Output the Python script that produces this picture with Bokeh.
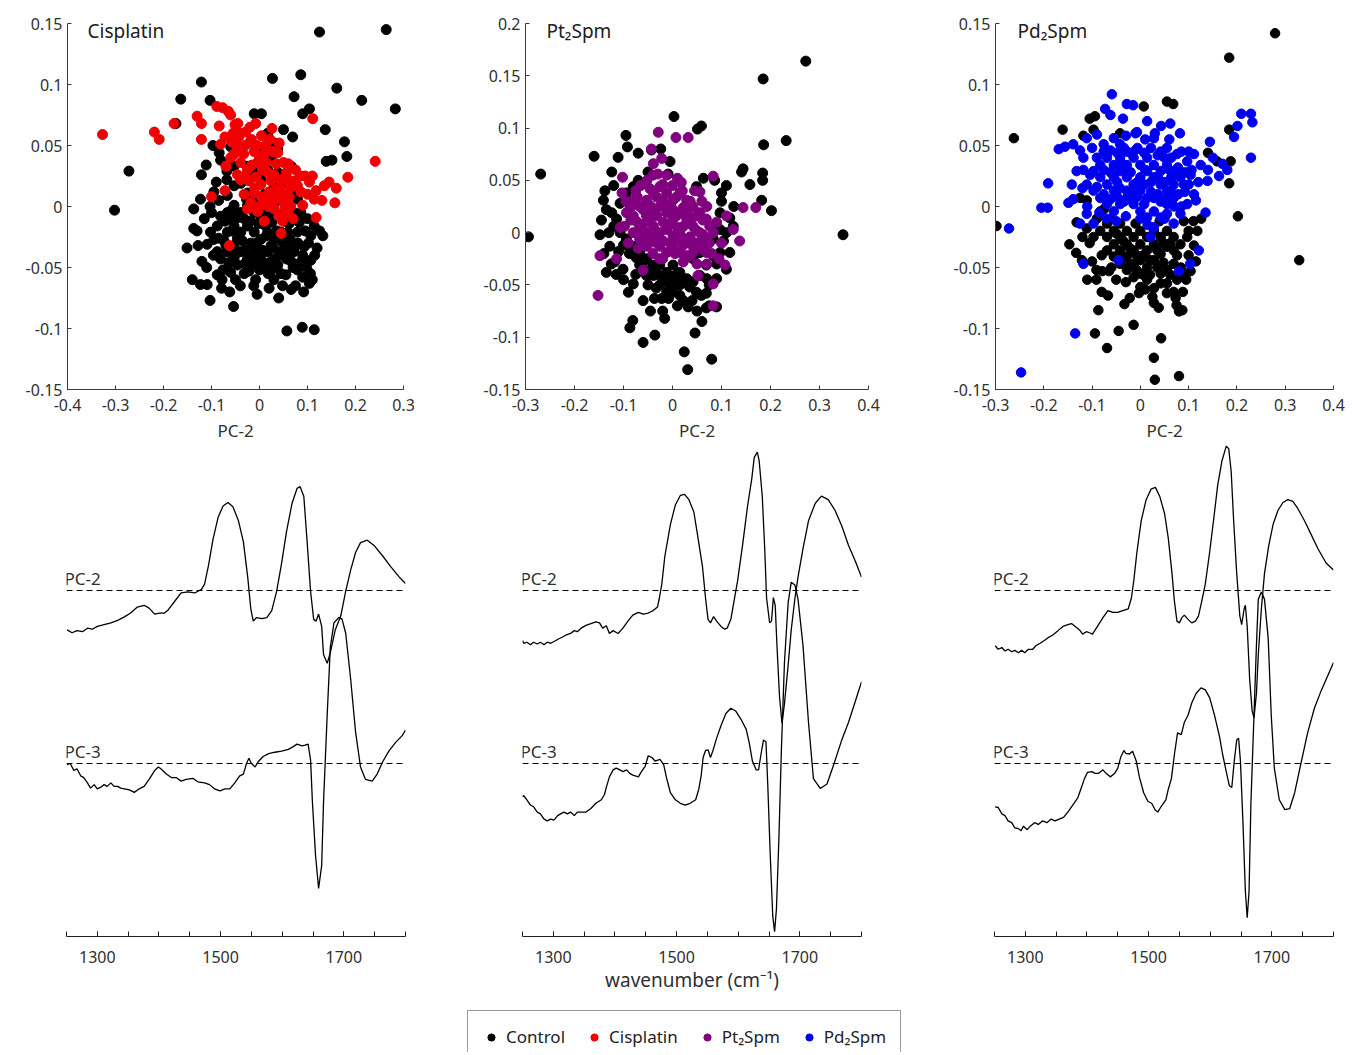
import math
from bokeh.plotting import figure
from bokeh.models import (Range1d, FixedTicker, CustomJSTickFormatter, Label, Span,
                          Legend, LegendItem)
from bokeh.layouts import row, column
from bokeh.embed import file_html
from bokeh.resources import INLINE

FONT = "Noto Sans"
TEXT = "#303030"
AXIS = "#3a3a3a"

# ---------------------------------------------------------------- scores (PC-2, PC-3)
CIS_CONTROL = [
    (0.125, 0.143), (0.264, 0.145), (-0.121, 0.102), (0.027, 0.105), (0.086, 0.108), (0.161, 0.097),
    (0.213, 0.087), (0.283, 0.080), (-0.164, 0.088), (-0.103, 0.087), (0.072, 0.090), (0.104, 0.080),
    (0.090, 0.076), (-0.011, 0.076), (0.004, 0.076), (-0.174, 0.068), (0.137, 0.063), (0.050, 0.063),
    (0.069, 0.057), (0.177, 0.053), (-0.097, 0.050), (-0.084, 0.044), (0.139, 0.037), (0.151, 0.038),
    (0.182, 0.041), (-0.272, 0.029), (-0.121, 0.026), (-0.111, 0.034), (-0.068, 0.029), (0.055, 0.026),
    (-0.302, -0.003), (-0.137, -0.002), (-0.123, 0.006), (-0.103, 0.000), (-0.137, -0.018),
    (-0.128, -0.032), (-0.151, -0.034), (-0.109, -0.031), (-0.102, -0.021), (0.132, -0.024),
    (0.107, -0.024), (0.114, -0.016), (-0.140, -0.060), (-0.123, -0.064), (-0.109, -0.064),
    (-0.103, -0.077), (-0.079, -0.067), (-0.088, -0.056), (-0.060, -0.054), (-0.054, -0.082),
    (-0.022, -0.053), (-0.008, -0.060), (0.022, -0.054), (0.020, -0.067), (0.048, -0.065),
    (0.066, -0.068), (0.055, -0.056), (0.079, -0.052), (0.090, -0.058), (0.104, -0.063),
    (0.106, -0.055), (0.057, -0.102), (0.089, -0.099), (0.114, -0.101), (0.072, -0.037),
    (0.090, -0.040), (0.093, -0.033), (0.079, -0.021), (0.059, -0.021), (-0.067, 0.009),
    (-0.053, 0.017), (-0.039, 0.019), (-0.081, -0.008), (-0.067, -0.021), (-0.053, -0.016),
    (-0.039, -0.021), (-0.025, -0.016), (-0.011, -0.021), (0.003, -0.027), (0.017, -0.021),
    (0.031, -0.027), (0.045, -0.021), (-0.053, -0.032), (-0.039, -0.037), (-0.025, -0.043),
    (-0.011, -0.037), (0.003, -0.043), (0.017, -0.037), (0.031, -0.043), (0.045, -0.037),
    (0.059, -0.032), (-0.067, -0.037), (-0.081, -0.043), (-0.053, -0.043), (-0.039, -0.005),
    (-0.025, 0.001), (-0.011, -0.005), (-0.053, 0.001), (0.003, -0.010), (0.017, -0.008),
    (-0.011, 0.006), (-0.025, 0.011), (-0.067, -0.005), (-0.088, -0.016), (-0.095, -0.027),
    (0.031, -0.005), (0.059, 0.001), (0.072, -0.005), (0.086, -0.005), (0.100, -0.010),
    (0.079, 0.006), (0.066, 0.011), (0.052, 0.019), (0.031, 0.017), (0.038, 0.028), (0.017, 0.030),
    (0.003, 0.022), (-0.011, 0.028), (-0.025, 0.033), (-0.053, 0.033), (-0.081, 0.038),
    (0.066, 0.033), (-0.060, 0.049), (0.031, 0.052), (0.017, 0.060), (0.038, 0.047),
    (-0.046, -0.048), (-0.018, -0.048), (0.010, -0.048), (0.038, -0.048), (0.066, -0.045),
    (-0.088, -0.037), (0.107, -0.044), (-0.032, -0.010), (0.010, -0.015), (0.024, -0.032),
    (-0.046, -0.026), (0.052, -0.012), (-0.018, -0.030), (0.038, 0.005), (-0.060, -0.010),
    (0.010, 0.010), (-0.074, -0.028), (0.045, -0.055), (-0.032, -0.055), (0.024, 0.040),
    (-0.004, 0.045),
    (-0.085, -0.026), (-0.072, -0.012), (-0.064, -0.046), (-0.058, -0.003), (-0.047, -0.038),
    (-0.044, -0.009), (-0.036, -0.028), (-0.031, -0.047), (-0.027, 0.006), (-0.019, -0.012),
    (-0.016, -0.040), (-0.006, -0.030), (-0.002, -0.014), (0.000, -0.052), (0.007, -0.036),
    (0.011, -0.003), (0.014, -0.024), (0.021, -0.046), (0.026, -0.013), (0.029, -0.034),
    (0.036, -0.020), (0.041, -0.040), (0.047, -0.029), (0.050, -0.006), (0.056, -0.043),
    (0.062, -0.014), (0.064, -0.027), (0.070, -0.050), (0.076, -0.032), (0.083, -0.013),
    (0.087, -0.045), (0.095, -0.020), (-0.076, -0.052), (-0.096, -0.040), (-0.110, -0.050),
    (-0.115, -0.010), (-0.068, 0.022), (-0.090, 0.020), (0.102, -0.030), (0.120, -0.034),
    (0.092, -0.070), (-0.050, -0.060), (0.030, -0.060), (-0.012, -0.065),
    (-0.120, -0.045), (-0.130, -0.020), (-0.100, -0.005), (-0.085, 0.005), (-0.095, 0.012),
    (-0.078, -0.060), (-0.062, -0.070), (-0.040, -0.065), (-0.005, -0.072), (0.040, -0.075),
    (0.075, -0.065), (0.098, -0.050), (0.110, -0.060), (0.115, -0.040), (0.125, -0.020),
    (-0.058, -0.020), (-0.030, -0.036), (0.005, -0.004), (0.018, -0.055), (0.058, -0.038),
    (0.080, -0.030), (-0.010, -0.046), (-0.070, -0.032), (0.033, -0.050),
]
CISPLATIN = [
    (-0.327, 0.059), (-0.219, 0.061), (-0.209, 0.055), (-0.178, 0.068), (-0.130, 0.074),
    (-0.121, 0.068), (-0.121, 0.055), (-0.089, 0.082), (-0.077, 0.081), (-0.065, 0.078),
    (-0.060, 0.075), (-0.051, 0.067), (-0.084, 0.066), (-0.072, 0.057), (-0.081, 0.051),
    (-0.043, 0.057), (-0.029, 0.061), (-0.008, 0.068), (0.026, 0.064), (0.111, 0.072),
    (0.241, 0.037), (0.184, 0.024), (0.157, 0.003), (0.135, 0.017), (0.118, 0.013), (0.118, -0.009),
    (0.114, 0.006), (0.095, 0.025), (0.079, 0.017), (0.072, 0.021), (0.059, 0.021), (0.041, 0.052),
    (0.038, 0.044), (0.050, 0.036), (-0.039, 0.049), (-0.022, 0.052), (-0.011, 0.045), (0.010, 0.043),
    (-0.053, 0.043), (-0.070, 0.033), (-0.039, 0.036), (-0.025, 0.030), (-0.004, 0.036),
    (0.017, 0.028), (-0.039, 0.022), (-0.022, 0.021), (0.003, 0.018), (0.024, 0.021), (0.045, 0.014),
    (-0.011, 0.011), (0.010, 0.006), (0.024, 0.003), (0.038, 0.007), (0.052, 0.002), (0.059, -0.005),
    (0.031, -0.002), (-0.025, -0.002), (-0.004, -0.004), (0.010, -0.012), (0.045, -0.022),
    (-0.063, -0.032), (-0.072, 0.013), (-0.100, 0.008), (0.090, 0.001),
    (-0.048, 0.050), (-0.033, 0.043), (-0.017, 0.055), (-0.005, 0.050), (0.004, 0.058),
    (-0.030, 0.025), (-0.016, 0.034), (-0.008, 0.024), (0.006, 0.030), (0.014, 0.036), (0.020, 0.012),
    (0.030, 0.026), (0.034, 0.014), (0.044, 0.022), (0.050, 0.010), (0.056, 0.028), (0.062, 0.008),
    (0.066, 0.016), (0.040, -0.008), (0.048, -0.012), (0.054, -0.002), (0.018, 0.000), (0.004, 0.008),
    (-0.018, 0.003), (-0.032, 0.010), (-0.046, 0.026), (-0.058, 0.053), (-0.055, 0.060),
    (0.086, 0.012), (0.100, 0.010), (0.104, 0.020), (0.130, 0.005), (0.028, 0.045), (-0.045, 0.068),
    (-0.040, 0.060), (-0.020, 0.065), (0.000, 0.040), (0.012, 0.050), (0.022, 0.055), (-0.010, 0.015),
    (0.000, 0.000), (0.030, 0.005), (0.060, 0.035), (0.075, 0.030), (0.085, 0.025), (0.065, 0.000),
    (0.070, -0.010), (-0.030, 0.050), (-0.060, 0.040), (0.035, 0.035), (0.110, 0.025), (0.145, 0.020),
    (0.160, 0.015),
]
PT_CONTROL = [
    (-0.294, -0.004), (-0.269, 0.056), (-0.160, 0.073), (-0.095, 0.093), (-0.092, 0.082),
    (-0.070, 0.076), (-0.043, 0.079), (-0.024, 0.080), (0.003, 0.111), (0.051, 0.099), (0.059, 0.102),
    (0.185, 0.147), (0.272, 0.164), (0.186, 0.084), (0.232, 0.088), (0.348, -0.002), (0.202, 0.021),
    (0.182, 0.031), (0.184, 0.057), (0.184, 0.050), (0.158, 0.046), (0.144, 0.061), (0.141, 0.058),
    (-0.005, 0.068), (-0.009, 0.056), (-0.050, 0.058), (-0.070, 0.050), (-0.111, 0.072),
    (-0.124, 0.058), (-0.135, 0.022), (-0.148, -0.002), (-0.135, -0.038), (-0.118, -0.028),
    (-0.101, -0.035), (-0.090, -0.057), (-0.080, -0.049), (-0.081, -0.084), (-0.087, -0.091),
    (-0.060, -0.105), (-0.036, -0.098), (-0.016, -0.082), (-0.037, -0.063), (-0.022, -0.063),
    (0.024, -0.114), (0.031, -0.131), (0.046, -0.096), (0.080, -0.121), (0.022, -0.065),
    (0.032, -0.071), (0.049, -0.057), (0.069, -0.058), (0.069, -0.072), (0.090, -0.071),
    (0.090, -0.044), (0.110, -0.035), (0.117, -0.019), (0.110, 0.000), (0.124, 0.006), (0.117, 0.014),
    (0.100, 0.038), (0.086, 0.050), (0.063, 0.052), (0.049, 0.044), (-0.026, -0.050),
    (-0.012, -0.047), (0.001, -0.044), (0.015, -0.050), (-0.012, -0.038), (-0.026, -0.031),
    (-0.039, -0.031), (-0.053, -0.025), (-0.067, -0.019), (-0.080, -0.013), (-0.094, -0.006),
    (-0.107, 0.000), (-0.114, 0.013), (-0.107, 0.028), (-0.094, 0.038), (-0.080, 0.044),
    (0.001, -0.031), (0.015, -0.038), (0.029, -0.044), (0.042, -0.047), (0.056, -0.041),
    (0.069, -0.031), (0.083, -0.022), (0.097, -0.019), (0.083, -0.006), (0.097, 0.003), (0.097, 0.019),
    (0.042, -0.025), (0.056, -0.019), (-0.039, -0.041), (-0.053, -0.041), (-0.067, -0.031),
    (-0.128, -0.013), (-0.141, 0.031), (-0.124, 0.019), (0.001, -0.057), (-0.033, -0.053),
    (-0.012, -0.057), (0.015, -0.060), (0.059, -0.060),
    (-0.030, -0.040), (-0.018, -0.045), (-0.005, -0.050), (0.008, -0.040), (0.020, -0.046),
    (0.035, -0.052), (-0.046, -0.036), (-0.060, -0.028), (-0.074, -0.024), (-0.088, -0.020),
    (-0.100, -0.012), (-0.120, 0.006), (-0.130, 0.000), (-0.145, 0.012), (-0.138, 0.040),
    (-0.120, 0.045), (-0.008, -0.063), (0.010, -0.070), (0.040, -0.065), (0.050, -0.075),
    (0.075, -0.050), (0.090, -0.030), (0.104, -0.008), (0.070, -0.044), (-0.050, -0.050),
    (-0.075, -0.040), (-0.100, -0.045), (-0.115, -0.040), (-0.020, -0.075),
    (-0.140, -0.020), (-0.125, -0.030), (-0.110, -0.018), (-0.060, -0.065), (-0.045, -0.075),
    (0.060, -0.085), (0.075, -0.070), (0.100, 0.030), (0.110, 0.045), (0.125, 0.025),
]
PT2SPM = [
    (-0.152, -0.060), (-0.148, -0.022), (-0.114, -0.025), (-0.107, 0.005), (-0.103, 0.038),
    (-0.102, 0.053), (-0.060, -0.036), (-0.029, 0.096), (-0.043, 0.080), (-0.039, 0.066),
    (-0.022, 0.071), (0.007, 0.091), (0.032, 0.091), (0.018, 0.048), (0.056, 0.039), (0.083, 0.054),
    (0.144, 0.024), (0.170, 0.024), (0.137, -0.008), (0.124, 0.003), (0.110, 0.016), (0.107, -0.031),
    (0.083, -0.049), (0.083, -0.070), (0.052, -0.041), (-0.026, -0.025), (-0.080, 0.031),
    (-0.067, 0.025), (-0.053, 0.031), (-0.039, 0.038), (-0.026, 0.044), (-0.012, 0.038),
    (0.001, 0.031), (0.015, 0.038), (0.029, 0.031), (0.042, 0.025), (0.056, 0.019), (0.069, 0.013),
    (-0.080, 0.016), (-0.067, 0.006), (-0.053, 0.016), (-0.039, 0.022), (-0.026, 0.025),
    (-0.012, 0.019), (0.001, 0.013), (0.015, 0.019), (0.029, 0.013), (0.042, 0.006), (0.056, 0.000),
    (0.069, -0.006), (0.083, 0.000), (-0.067, -0.006), (-0.053, 0.000), (-0.039, 0.006),
    (-0.026, 0.000), (-0.012, 0.003), (0.001, -0.003), (0.015, 0.000), (0.029, -0.006),
    (0.042, -0.013), (-0.053, -0.013), (-0.039, -0.009), (-0.026, -0.013), (-0.012, -0.019),
    (0.001, -0.013), (0.015, -0.019), (0.029, -0.022), (0.042, -0.019), (-0.080, 0.000),
    (-0.094, 0.019), (0.001, 0.022), (0.069, -0.019), (0.056, -0.009),
    (-0.086, 0.024), (-0.072, 0.034), (-0.060, 0.022), (-0.046, 0.026), (-0.032, 0.034),
    (-0.019, 0.030), (-0.005, 0.026), (0.008, 0.034), (0.022, 0.024), (0.036, 0.030), (0.049, 0.016),
    (0.062, 0.012), (-0.074, 0.011), (-0.060, 0.008), (-0.046, 0.012), (-0.032, 0.016),
    (-0.019, 0.010), (-0.005, 0.008), (0.008, 0.016), (0.022, 0.006), (0.036, 0.011), (0.049, 0.002),
    (0.062, -0.002), (0.076, 0.006), (-0.060, -0.008), (-0.046, -0.004), (-0.032, -0.006),
    (-0.019, -0.008), (-0.005, -0.010), (0.008, -0.006), (0.022, -0.012), (0.036, -0.004),
    (0.049, -0.010), (0.062, -0.016), (-0.040, -0.020), (-0.020, -0.025), (0.005, -0.020),
    (0.022, -0.028), (0.036, -0.022), (-0.046, 0.042), (-0.020, 0.046), (0.000, 0.045),
    (-0.012, 0.055), (-0.030, 0.056), (0.090, 0.010), (0.100, -0.010), (0.095, -0.025),
    (-0.098, 0.006), (-0.090, -0.010),
    (-0.075, 0.040), (-0.065, 0.045), (-0.052, 0.050), (-0.040, 0.055), (0.010, 0.052),
    (0.020, 0.040), (0.045, 0.040), (0.060, 0.030), (0.070, 0.025), (0.075, -0.010), (0.080, -0.020),
    (0.070, -0.030), (0.050, -0.030), (-0.065, 0.000), (-0.085, 0.012), (-0.095, 0.030),
    (-0.070, -0.015), (-0.030, 0.000), (0.010, 0.005), (0.030, 0.018),
]
PD_CONTROL = [
    (-0.298, -0.016), (-0.262, 0.056), (-0.161, 0.063), (0.279, 0.142), (0.184, 0.122), (0.184, 0.063),
    (0.187, 0.037), (0.184, 0.019), (0.202, -0.008), (0.329, -0.044), (0.007, 0.082), (0.055, 0.086),
    (0.068, 0.084), (-0.105, 0.072), (-0.094, 0.074), (-0.118, 0.058), (-0.097, 0.063),
    (-0.042, 0.060), (-0.008, 0.047), (0.159, 0.037), (0.140, 0.044), (-0.147, -0.031),
    (-0.133, -0.038), (-0.121, -0.044), (-0.100, -0.045), (-0.091, -0.052), (-0.091, -0.060),
    (-0.079, -0.053), (-0.065, -0.053), (-0.067, -0.073), (-0.087, -0.085), (-0.094, -0.104),
    (-0.045, -0.102), (-0.069, -0.116), (-0.014, -0.097), (-0.033, -0.080), (-0.022, -0.075),
    (-0.003, -0.071), (0.028, -0.124), (0.030, -0.142), (0.043, -0.108), (0.080, -0.139),
    (0.028, -0.079), (0.038, -0.083), (0.069, -0.070), (0.075, -0.081), (0.080, -0.086),
    (0.087, -0.085), (0.073, -0.075), (0.028, -0.067), (0.042, -0.063), (0.090, -0.056),
    (0.104, -0.053), (0.111, -0.032), (0.118, -0.020), (0.097, -0.025), (-0.132, -0.013),
    (-0.111, -0.018), (-0.097, -0.025), (-0.083, -0.020), (-0.069, -0.025), (-0.055, -0.031),
    (-0.042, -0.036), (-0.028, -0.041), (-0.014, -0.047), (0.000, -0.044), (0.014, -0.050),
    (0.028, -0.044), (0.042, -0.039), (0.055, -0.033), (0.069, -0.036), (0.083, -0.031),
    (0.069, -0.047), (0.055, -0.052), (0.042, -0.055), (0.014, -0.060), (0.000, -0.055),
    (-0.014, -0.058), (-0.028, -0.052), (-0.042, -0.047), (-0.055, -0.041), (-0.069, -0.036),
    (-0.028, -0.031), (-0.014, -0.036), (0.000, -0.031), (0.014, -0.036), (0.028, -0.031),
    (0.014, -0.025), (0.000, -0.020), (-0.014, -0.025), (-0.042, -0.025), (-0.055, -0.020),
    (-0.069, -0.014), (-0.042, -0.014), (-0.028, -0.020), (0.028, -0.020), (0.042, -0.025),
    (0.055, -0.020), (0.069, -0.025), (-0.083, -0.004), (-0.111, 0.005), (-0.125, 0.007),
    (0.055, -0.063), (0.000, -0.066), (0.055, -0.071),
    (-0.050, -0.022), (-0.036, -0.028), (-0.022, -0.034), (-0.008, -0.040), (0.006, -0.040),
    (0.020, -0.044), (0.035, -0.036), (0.048, -0.030), (0.062, -0.030), (0.076, -0.040),
    (-0.036, -0.042), (-0.022, -0.048), (-0.008, -0.052), (0.006, -0.056), (0.020, -0.056),
    (0.035, -0.050), (0.048, -0.046), (0.062, -0.056), (0.076, -0.060), (0.088, -0.070),
    (0.084, -0.050), (-0.030, -0.062), (-0.050, -0.060), (0.010, -0.068), (0.025, -0.074),
    (-0.060, -0.010), (-0.075, -0.002), (-0.090, -0.010), (-0.105, -0.030), (0.100, -0.040),
    (0.110, -0.012), (0.126, -0.010), (0.090, -0.012), (-0.010, -0.014), (0.040, -0.012),
    (-0.080, -0.040), (-0.060, -0.050), (-0.110, -0.060), (0.095, -0.060), (0.100, -0.020),
    (0.115, -0.045), (-0.120, -0.025), (-0.080, -0.070),
]
PD2SPM = [
    (-0.247, -0.136), (-0.272, -0.018), (-0.191, 0.019), (-0.205, -0.001), (-0.192, -0.001),
    (-0.169, 0.047), (-0.156, 0.049), (-0.135, -0.104), (-0.118, -0.047), (-0.059, 0.092),
    (-0.073, 0.080), (-0.062, 0.075), (-0.028, 0.084), (-0.015, 0.083), (-0.036, 0.072),
    (0.014, 0.070), (0.043, 0.066), (0.062, 0.068), (0.082, 0.060), (0.209, 0.076), (0.229, 0.076),
    (0.232, 0.069), (0.201, 0.066), (0.194, 0.057), (0.229, 0.040), (0.144, 0.053), (0.163, 0.025),
    (0.139, 0.021), (0.135, -0.005), (0.121, -0.036), (0.103, -0.047), (0.080, -0.053),
    (-0.045, -0.044), (-0.139, 0.006), (-0.142, 0.018), (-0.132, 0.029), (-0.118, 0.040),
    (-0.111, 0.056), (-0.090, 0.059), (-0.076, 0.051), (-0.055, 0.056), (-0.042, 0.051),
    (-0.028, 0.045), (-0.007, 0.061), (0.028, 0.056), (0.042, 0.045), (0.055, 0.048), (0.076, 0.043),
    (0.097, 0.037), (0.111, 0.043), (0.125, 0.034), (0.104, 0.026), (0.090, 0.018), (0.111, 0.010),
    (0.097, 0.002), (0.083, -0.006), (0.069, -0.014), (0.028, -0.017), (0.014, -0.009),
    (0.000, -0.004), (-0.014, 0.002), (-0.028, 0.007), (-0.042, 0.002), (-0.055, -0.004),
    (-0.069, 0.002), (-0.083, 0.007), (-0.097, 0.013), (-0.111, 0.018), (-0.097, 0.029),
    (-0.083, 0.034), (-0.069, 0.040), (-0.055, 0.034), (-0.042, 0.040), (-0.028, 0.034),
    (-0.014, 0.040), (0.000, 0.034), (0.014, 0.040), (0.028, 0.034), (0.042, 0.029), (0.055, 0.034),
    (0.069, 0.029), (0.083, 0.024), (0.069, 0.018), (0.055, 0.013), (0.042, 0.018), (0.028, 0.024),
    (0.014, 0.029), (0.000, 0.024), (-0.014, 0.018), (-0.028, 0.024), (-0.042, 0.029),
    (-0.055, 0.024), (-0.069, 0.018), (-0.083, 0.024), (-0.055, 0.013), (-0.042, 0.015),
    (-0.028, 0.013), (-0.014, 0.010), (0.000, 0.013), (0.014, 0.007), (0.028, 0.007), (0.042, 0.004),
    (0.055, 0.002), (0.069, 0.007), (0.028, -0.004), (0.042, -0.009), (0.055, -0.006),
    (-0.111, -0.006), (-0.097, -0.014), (-0.125, -0.014), (-0.149, 0.003), (-0.139, 0.051),
    (0.021, -0.025),
    (-0.090, 0.016), (-0.076, 0.010), (-0.062, 0.006), (-0.048, 0.008), (-0.034, 0.004),
    (-0.020, 0.006), (-0.006, 0.008), (0.008, 0.002), (0.022, 0.012), (0.036, 0.010), (0.050, 0.006),
    (0.064, 0.012), (0.078, 0.010), (0.092, 0.012), (-0.090, 0.040), (-0.076, 0.045), (-0.062, 0.046),
    (-0.048, 0.044), (-0.034, 0.048), (-0.020, 0.044), (-0.006, 0.048), (0.008, 0.044), (0.022, 0.048),
    (0.036, 0.042), (0.050, 0.040), (0.064, 0.040), (-0.076, 0.030), (-0.062, 0.028), (-0.048, 0.020),
    (-0.034, 0.030), (-0.020, 0.028), (-0.006, 0.020), (0.008, 0.018), (0.022, 0.020), (0.036, 0.024),
    (0.050, 0.020), (0.064, 0.024), (0.078, 0.032), (0.092, 0.028), (0.106, 0.030), (-0.104, 0.026),
    (-0.118, 0.030), (-0.125, 0.046), (-0.100, 0.048), (0.000, -0.010), (0.015, -0.015),
    (-0.030, -0.008), (0.050, -0.010), (0.070, 0.000), (0.120, 0.020), (0.140, 0.030), (0.150, 0.040),
    (0.170, 0.035), (0.180, 0.030),
    (-0.110, 0.000), (-0.120, 0.015), (-0.085, -0.005), (-0.070, -0.010), (-0.050, -0.012),
    (-0.030, 0.058), (-0.010, 0.060), (0.010, 0.055), (0.030, 0.060), (0.060, 0.055), (0.085, 0.045),
    (0.100, 0.045), (0.115, 0.005), (0.085, 0.000), (0.100, 0.018), (0.010, 0.030), (-0.040, 0.036),
    (0.060, 0.030),
]

# ---------------------------------------------------------------- loadings (wavenumber, a.u.)
CIS_PC2 = [
    (1251, -11.2), (1259, -12.0), (1267, -11.4), (1276, -11.7), (1284, -10.7), (1292, -11.0),
    (1300, -10.2), (1311, -9.7), (1322, -9.2), (1333, -8.5), (1344, -7.5), (1354, -6.4),
    (1365, -4.7), (1376, -4.2), (1384, -5.0), (1393, -6.7), (1401, -6.4), (1409, -6.4),
    (1414, -5.7), (1425, -3.2), (1436, -0.7), (1447, -0.4), (1458, -0.7), (1469, 0.3), (1474, 1.8),
    (1480, 6.8), (1488, 14.8), (1496, 20.8), (1504, 24.0), (1512, 25.0), (1520, 23.8), (1529, 19.8),
    (1537, 13.8), (1544, 3.8), (1549, -5.2), (1553, -8.7), (1558, -7.7), (1567, -8.0), (1575, -7.7),
    (1583, -5.7), (1591, -0.2), (1599, 7.8), (1607, 16.8), (1616, 24.8), (1624, 29.0), (1629, 29.5),
    (1635, 26.8), (1640, 14.8), (1646, -0.2), (1651, -8.2), (1655, -8.7), (1659, -6.7),
    (1664, -10.2), (1667, -18.2), (1673, -20.7), (1678, -17.7), (1686, -11.2), (1695, -7.2),
    (1703, -0.2), (1711, 5.8), (1719, 10.8), (1727, 13.6), (1738, 14.3), (1749, 12.8), (1763, 9.8),
    (1776, 6.8), (1790, 3.8), (1800, 2.0),
]
CIS_PC3 = [
    (1251, -0.3), (1256, 0.0), (1262, -2.0), (1267, -1.5), (1273, -3.5), (1278, -4.0), (1284, -5.5),
    (1289, -7.0), (1295, -6.0), (1300, -7.2), (1305, -6.8), (1311, -6.0), (1316, -6.5), (1322, -5.5),
    (1327, -6.5), (1333, -6.5), (1338, -7.0), (1344, -7.2), (1352, -7.5), (1360, -8.2), (1368, -7.2),
    (1376, -6.5), (1384, -4.5), (1393, -2.0), (1399, -1.0), (1403, -1.5), (1412, -3.0), (1420, -4.0),
    (1428, -4.0), (1436, -5.0), (1444, -4.5), (1455, -4.2), (1463, -5.2), (1474, -5.5), (1482, -6.0),
    (1490, -7.2), (1499, -7.8), (1507, -7.2), (1515, -7.2), (1523, -5.5), (1531, -3.5), (1537, -3.0),
    (1542, 0.0), (1546, 1.5), (1550, 0.0), (1556, -1.0), (1561, 0.5), (1569, 2.0), (1578, 2.8),
    (1588, 3.2), (1599, 3.5), (1610, 4.0), (1618, 4.8), (1624, 5.5), (1632, 5.0), (1637, 5.2),
    (1642, 5.5), (1646, 1.0), (1649, -11.0), (1654, -26.0), (1659, -35.5), (1664, -29.0),
    (1667, -11.0), (1673, 14.0), (1678, 33.0), (1684, 40.0), (1692, 41.5), (1697, 41.0),
    (1703, 37.0), (1711, 24.0), (1719, 9.0), (1727, -1.0), (1735, -4.5), (1746, -5.0), (1754, -3.0),
    (1763, 0.5), (1773, 3.5), (1784, 6.0), (1795, 8.0), (1800, 9.5),
]
PT_PC2 = [
    (1250, -14.2), (1252, -15.0), (1257, -14.7), (1263, -15.4), (1268, -14.7), (1274, -15.2),
    (1279, -14.7), (1285, -15.4), (1290, -14.7), (1296, -15.0), (1304, -14.2), (1309, -13.7),
    (1315, -13.2), (1320, -12.7), (1328, -12.2), (1334, -11.4), (1339, -11.7), (1345, -10.7),
    (1353, -9.9), (1361, -9.4), (1369, -8.9), (1375, -9.2), (1380, -10.7), (1386, -10.0),
    (1391, -12.2), (1397, -11.4), (1405, -12.2), (1413, -10.7), (1421, -8.7), (1429, -7.0),
    (1438, -6.2), (1446, -6.7), (1454, -6.4), (1462, -5.7), (1469, -4.7), (1472, -2.2), (1476, 1.8),
    (1481, 9.8), (1490, 18.8), (1498, 24.3), (1506, 27.0), (1513, 27.3), (1520, 25.8), (1528, 22.3),
    (1534, 15.8), (1542, 6.8), (1547, -2.2), (1551, -8.2), (1555, -9.2), (1560, -7.4), (1565, -8.7),
    (1572, -10.2), (1578, -11.0), (1582, -10.7), (1588, -8.2), (1593, -3.2), (1599, 2.8),
    (1607, 12.8), (1615, 23.8), (1622, 31.8), (1626, 37.8), (1631, 39.3), (1634, 36.8), (1639, 26.8),
    (1643, 11.8), (1646, -2.2), (1651, -9.2), (1654, -8.7), (1657, -2.0), (1660, -4.2),
    (1663, -16.2), (1667, -30.2), (1671, -37.7), (1675, -32.2), (1681, -21.2), (1686, -11.2),
    (1692, -2.2), (1697, 3.8), (1705, 11.8), (1714, 19.8), (1725, 24.8), (1735, 26.8), (1746, 25.8),
    (1757, 22.8), (1768, 18.3), (1779, 12.8), (1790, 8.3), (1800, 3.8),
]
PT_PC3 = [
    (1250, -9.5), (1252, -9.1), (1257, -10.3), (1263, -11.8), (1268, -12.3), (1274, -13.8),
    (1279, -14.3), (1285, -15.8), (1290, -16.3), (1296, -15.8), (1301, -16.1), (1307, -14.8),
    (1312, -14.3), (1317, -13.8), (1323, -14.3), (1328, -13.8), (1334, -14.8), (1339, -13.8),
    (1345, -13.8), (1353, -13.8), (1361, -12.8), (1369, -11.3), (1378, -10.3), (1383, -8.8),
    (1386, -6.8), (1391, -3.8), (1397, -1.8), (1402, -1.3), (1408, -1.8), (1413, -2.3), (1419, -1.8),
    (1424, -2.8), (1429, -3.3), (1438, -3.8), (1443, -2.3), (1449, -0.8), (1454, 2.2), (1460, 1.7),
    (1465, 0.7), (1473, 1.2), (1479, -0.3), (1484, -4.3), (1490, -8.3), (1498, -10.3), (1506, -11.3),
    (1514, -11.8), (1522, -11.3), (1531, -10.3), (1536, -7.3), (1540, -3.3), (1543, 1.7), (1547, 3.7),
    (1551, 3.9), (1555, 1.7), (1559, 3.7), (1565, 7.2), (1572, 10.7), (1580, 14.2), (1588, 15.7),
    (1596, 14.9), (1604, 12.7), (1613, 9.7), (1618, 5.7), (1623, 0.7), (1629, -1.8), (1633, -1.8),
    (1637, 2.7), (1641, 6.7), (1645, 6.2), (1648, -6.3), (1652, -26.3), (1656, -43.3), (1659, -47.8),
    (1662, -41.3), (1666, -21.3), (1670, 3.7), (1675, 28.7), (1681, 45.7), (1686, 51.5), (1692, 50.7),
    (1697, 46.7), (1705, 33.7), (1714, 11.7), (1722, -4.3), (1733, -7.1), (1744, -5.8), (1755, -0.3),
    (1768, 6.7), (1779, 11.7), (1790, 17.7), (1800, 23.2),
]
PD_PC2 = [
    (1251, -15.7), (1256, -16.7), (1262, -16.2), (1267, -17.2), (1272, -16.7), (1278, -17.4),
    (1283, -17.0), (1289, -17.7), (1294, -17.0), (1299, -17.7), (1305, -16.7), (1312, -16.7),
    (1317, -15.7), (1324, -15.0), (1331, -14.2), (1337, -13.4), (1344, -12.7), (1353, -11.4),
    (1361, -10.2), (1369, -9.7), (1375, -9.4), (1381, -10.2), (1388, -11.2), (1393, -12.4),
    (1399, -11.7), (1404, -12.0), (1409, -12.4), (1417, -10.2), (1426, -7.7), (1434, -5.7),
    (1442, -6.2), (1450, -6.2), (1458, -5.7), (1467, -5.2), (1472, -2.2), (1476, 2.8), (1481, 10.8),
    (1488, 19.8), (1496, 25.8), (1504, 28.8), (1511, 29.3), (1518, 26.8), (1526, 21.8), (1532, 14.8),
    (1538, 4.8), (1542, -3.2), (1546, -8.7), (1550, -9.2), (1554, -7.7), (1558, -7.0), (1564, -8.2),
    (1570, -9.2), (1576, -8.7), (1581, -7.2), (1586, -3.2), (1592, 1.8), (1599, 10.8), (1606, 20.8),
    (1612, 29.8), (1619, 36.8), (1626, 41.0), (1630, 40.3), (1634, 33.8), (1638, 19.8), (1643, 4.8),
    (1648, -7.2), (1651, -9.7), (1655, -5.2), (1657, -4.2), (1660, -10.2), (1664, -25.2),
    (1668, -34.2), (1671, -36.2), (1675, -29.2), (1678, -18.2), (1683, -5.2), (1688, 4.8),
    (1695, 12.8), (1702, 18.8), (1710, 22.8), (1718, 25.0), (1726, 25.8), (1734, 25.3), (1742, 23.3),
    (1753, 19.8), (1764, 15.8), (1775, 11.8), (1788, 7.8), (1800, 5.8),
]
PD_PC3 = [
    (1251, -12.3), (1256, -12.5), (1262, -14.3), (1267, -14.8), (1272, -16.3), (1278, -16.8),
    (1283, -18.3), (1289, -18.5), (1293, -19.1), (1297, -17.8), (1303, -18.8), (1308, -17.8),
    (1315, -16.8), (1321, -17.3), (1328, -16.3), (1335, -16.8), (1342, -15.8), (1348, -16.3),
    (1355, -15.8), (1362, -15.3), (1369, -13.8), (1377, -11.8), (1385, -9.8), (1390, -7.3),
    (1396, -4.3), (1401, -2.5), (1408, -2.3), (1413, -2.8), (1419, -2.8), (1426, -1.8), (1431, -2.8),
    (1438, -3.8), (1445, -2.8), (1450, -1.3), (1455, 1.9), (1460, 3.7), (1463, 2.9), (1469, 2.7),
    (1474, 3.5), (1480, 0.7), (1485, -3.8), (1492, -8.3), (1499, -10.8), (1505, -11.3), (1511, -13.3),
    (1515, -13.8), (1520, -12.3), (1528, -10.3), (1532, -7.3), (1537, -4.3), (1542, 2.7), (1547, 8.7),
    (1553, 8.2), (1558, 11.7), (1564, 13.7), (1570, 17.2), (1577, 19.9), (1585, 21.5), (1592, 20.9),
    (1599, 18.7), (1607, 13.7), (1615, 7.7), (1620, 2.7), (1626, -2.3), (1631, -6.3), (1635, -6.8),
    (1639, 0.7), (1643, 6.7), (1646, 7.2), (1649, 0.7), (1653, -16.3), (1657, -36.3), (1660, -43.8),
    (1663, -36.3), (1666, -11.3), (1671, 13.7), (1675, 33.7), (1678, 46.7), (1683, 48.7), (1688, 46.7),
    (1694, 35.7), (1699, 13.7), (1704, -1.3), (1712, -10.3), (1721, -13.1), (1729, -12.8),
    (1737, -8.3), (1748, 0.7), (1758, 8.7), (1769, 15.7), (1780, 20.7), (1800, 28.7),
]

X_TICKS_A = [-0.4, -0.3, -0.2, -0.1, 0, 0.1, 0.2, 0.3]
X_TICKS_B = [-0.3, -0.2, -0.1, 0, 0.1, 0.2, 0.3, 0.4]
Y_TICKS_A = [-0.15, -0.1, -0.05, 0, 0.05, 0.1, 0.15]
Y_TICKS_B = [-0.15, -0.1, -0.05, 0, 0.05, 0.1, 0.15, 0.2]
WN_LABELS = [1300, 1500, 1700]
WN_TICKS = [1250, 1300, 1350, 1400, 1450, 1500, 1550, 1600, 1650, 1700, 1750, 1800]

GROUPS = ["Control", "Cisplatin", "Pt\u2082Spm", "Pd\u2082Spm"]
COLORS = ["#000000", "#f00000", "#800080", "#0000f0"]

# layout constants (px / a.u.)
PX_PER_AU = 3.52
PC2_OFFSET = 173 / PX_PER_AU
Y_LO = -173 / PX_PER_AU
Y_HI = Y_LO + 492 / PX_PER_AU


def unzip(pairs):
    return [a for a, _ in pairs], [b for _, b in pairs]


def base_style(p):
    p.outline_line_color = None
    p.xgrid.visible = False
    p.ygrid.visible = False
    p.background_fill_color = "white"
    p.border_fill_color = "white"


def style_axis(ax, ticks, minor, tick_len, standoff):
    ax.ticker = FixedTicker(ticks=ticks, minor_ticks=minor)
    ax.major_tick_in = tick_len
    ax.major_tick_out = 0
    ax.minor_tick_in = tick_len if minor else 0
    ax.minor_tick_out = 0
    ax.axis_line_color = AXIS
    ax.major_tick_line_color = AXIS
    ax.minor_tick_line_color = AXIS
    ax.major_label_text_font = FONT
    ax.major_label_text_font_size = "16px"
    ax.major_label_text_color = TEXT
    ax.major_label_standoff = standoff


def scatter_panel(width, borders, xr, yr, xticks, yticks, ctrl, treat, color, size,
                  title, title_dx, ylab_dx):
    bl, br = borders
    p = figure(width=width, height=444, output_backend="svg", toolbar_location=None,
               x_range=Range1d(*xr), y_range=Range1d(*yr),
               min_border_left=bl, min_border_right=br, min_border_top=23, min_border_bottom=51)
    base_style(p)
    style_axis(p.xaxis[0], xticks, [], 4, 9)
    style_axis(p.yaxis[0], yticks, [], 4, 5)
    p.xaxis[0].formatter = CustomJSTickFormatter(code="return tick.toString();")
    p.yaxis[0].formatter = CustomJSTickFormatter(code="return tick.toString();")
    p.xaxis.axis_label = "PC-2"
    p.xaxis.axis_label_text_font = FONT
    p.xaxis.axis_label_text_font_size = "17px"
    p.xaxis.axis_label_text_font_style = "normal"
    p.xaxis.axis_label_text_color = TEXT
    p.xaxis.axis_label_standoff = 5

    cx, cy = unzip(ctrl)
    tx, ty = unzip(treat)
    p.scatter(cx, cy, size=size, fill_color=COLORS[0], line_color=COLORS[0])
    p.scatter(tx, ty, size=size, fill_color=color, line_color=color)

    p.add_layout(Label(x=xr[0], y=(yr[0] + yr[1]) / 2, x_offset=-ylab_dx, text="PC-3",
                       angle=math.pi / 2, text_align="center", text_baseline="middle",
                       text_font=FONT, text_font_size="17px", text_color=TEXT))
    p.add_layout(Label(x=xr[0], y=yr[1], x_offset=title_dx, y_offset=-7, text=title,
                       text_align="left", text_baseline="middle",
                       text_font=FONT, text_font_size="19px", text_color="#202020"))
    return p


def loading_panel(width, bl, br, pc2, pc3, xlabel):
    p = figure(width=width, height=556, output_backend="svg", toolbar_location=None,
               x_range=Range1d(1250, 1800), y_range=Range1d(Y_LO, Y_HI),
               y_axis_location=None,
               min_border_left=bl, min_border_right=br, min_border_top=0, min_border_bottom=64)
    base_style(p)
    ax = p.xaxis[0]
    style_axis(ax, WN_LABELS, WN_TICKS, 5, 14)
    ax.axis_line_color = "#202020"
    ax.major_tick_line_color = "#202020"
    ax.minor_tick_line_color = "#202020"
    if xlabel:
        ax.axis_label = xlabel
        ax.axis_label_text_font = FONT
        ax.axis_label_text_font_size = "19px"
        ax.axis_label_text_font_style = "normal"
        ax.axis_label_text_color = TEXT
        ax.axis_label_standoff = 1

    for loc in (PC2_OFFSET, 0):
        p.add_layout(Span(location=loc, dimension="width", line_color="black",
                          line_width=1, line_dash="6 4"))
    w2, v2 = unzip(pc2)
    w3, v3 = unzip(pc3)
    p.line(w2, [v + PC2_OFFSET for v in v2], line_color="black", line_width=1.3)
    p.line(w3, v3, line_color="black", line_width=1.3)
    for name, loc in (("PC-2", PC2_OFFSET), ("PC-3", 0)):
        p.add_layout(Label(x=1250, y=loc, x_offset=-2, y_offset=12, text=name,
                           text_align="left", text_baseline="middle",
                           text_font=FONT, text_font_size="17px", text_color=TEXT))
    return p


f1 = scatter_panel(460, (67, 57), (-0.4, 0.3), (-0.15, 0.15), X_TICKS_A, Y_TICKS_A,
                   CIS_CONTROL, CISPLATIN, COLORS[1], 10, GROUPS[1], 20, 47)
f2 = scatter_panel(470, (65, 62), (-0.3, 0.4), (-0.15, 0.2), X_TICKS_B, Y_TICKS_B,
                   PT_CONTROL, PT2SPM, COLORS[2], 10, GROUPS[2], 21, 49)
f3 = scatter_panel(420, (65, 17), (-0.3, 0.4), (-0.15, 0.15), X_TICKS_B, Y_TICKS_A,
                   PD_CONTROL, PD2SPM, COLORS[3], 9.5, GROUPS[3], 22, 42)

f4 = loading_panel(460, 66, 55, CIS_PC2, CIS_PC3, None)
f5 = loading_panel(470, 62, 69, PT_PC2, PT_PC3, "wavenumber (cm\u207b\u00b9)")
f6 = loading_panel(420, 64, 17, PD_PC2, PD_PC3, None)

# legend strip (proxy renderers carry the group data but lie outside this strip's ranges)
lf = figure(width=1350, height=52, output_backend="svg", toolbar_location=None,
            x_range=Range1d(5, 6), y_range=Range1d(5, 6),
            x_axis_location=None, y_axis_location=None, min_border=0)
base_style(lf)
items = []
for g, c, data in zip(GROUPS, COLORS, (CIS_CONTROL, CISPLATIN, PT2SPM, PD2SPM)):
    gx, gy = unzip(data)
    r = lf.scatter(x=gx, y=gy, size=8, fill_color=c, line_color=c)
    items.append(LegendItem(label=g, renderers=[r]))
legend = Legend(items=items, orientation="horizontal", location=(467, -11),
                glyph_width=18, glyph_height=18, label_standoff=6, spacing=20, padding=14,
                margin=0, border_line_color="#333333", border_line_width=1,
                background_fill_color="white", background_fill_alpha=1.0,
                label_text_font=FONT, label_text_font_size="17px", label_text_color="#222222")
lf.add_layout(legend)

layout = column(row(f1, f2, f3), row(f4, f5, f6), lf)
open("out.html", "w").write(file_html(layout, INLINE))
